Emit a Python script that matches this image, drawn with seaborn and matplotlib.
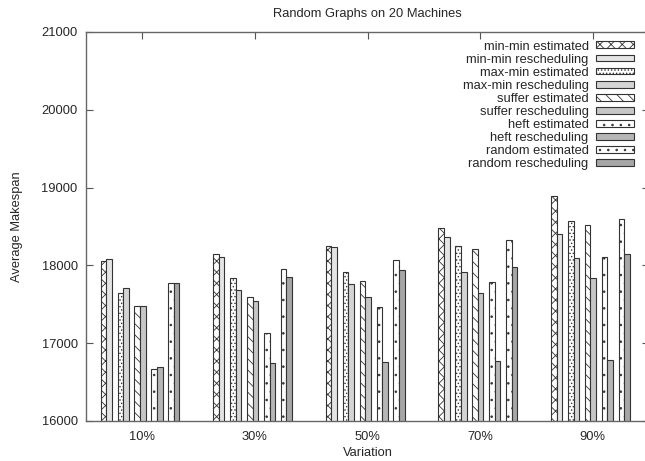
import numpy as np
import pandas as pd
import matplotlib
matplotlib.use("Agg")
import matplotlib.pyplot as plt
import seaborn as sns

# ---- data ----
variations = ['10%', '30%', '50%', '70%', '90%']
minmin_est = [18060, 18150, 18255, 18475, 18890]
minmin_resc = [18080, 18105, 18235, 18360, 18405]
maxmin_est = [17650, 17835, 17920, 18255, 18565]
maxmin_resc = [17705, 17690, 17765, 17910, 18100]
suffer_est = [17480, 17595, 17805, 18210, 18515]
suffer_resc = [17480, 17545, 17600, 17650, 17835]
heft_est = [16670, 17125, 17470, 17785, 18110]
heft_resc = [16695, 16750, 16755, 16775, 16785]
random_est = [17780, 17950, 18065, 18325, 18595]
random_resc = [17780, 17850, 17940, 17975, 18145]

series_labels = ['min-min estimated', 'min-min rescheduling',
                 'max-min estimated', 'max-min rescheduling',
                 'suffer estimated', 'suffer rescheduling',
                 'heft estimated', 'heft rescheduling',
                 'random estimated', 'random rescheduling']
series_values = [minmin_est, minmin_resc, maxmin_est, maxmin_resc,
                 suffer_est, suffer_resc, heft_est, heft_resc,
                 random_est, random_resc]

# ---- styles ----
sns.set_style('ticks')
plt.rcParams['font.family'] = ['Liberation Sans', 'DejaVu Sans']
plt.rcParams['font.size'] = 9.3
plt.rcParams['hatch.linewidth'] = 0.6
plt.rcParams['hatch.color'] = '#222222'
plt.rcParams['xtick.direction'] = 'in'
plt.rcParams['ytick.direction'] = 'in'

fills = ['white', '#e4e4e4', 'white', '#d4d4d4', 'white', '#c6c6c6',
         'white', '#b6b6b6', 'white', '#a6a6a6']
hatches = ['xxx', None, '.....', None, '\\\\\\', None, '..', None, '..', None]

bar_w = 0.05
pair_step = 0.15
shift = -0.02

fig = plt.figure(figsize=(6.45, 4.61), dpi=100)
ax = fig.add_axes([86 / 645, 40 / 461, 563 / 645, 389 / 461])

base = np.arange(len(variations))
for i, (lab, vals) in enumerate(zip(series_labels, series_values)):
    pair = i // 2
    off = (pair - 2) * pair_step + (-bar_w / 2 if i % 2 == 0 else bar_w / 2) + shift
    df = pd.DataFrame({'x': base + off, 'y': vals})
    kw = {}
    if hatches[i]:
        kw['hatch'] = hatches[i]
    sns.barplot(data=df, x='x', y='y', native_scale=True, width=bar_w,
                color=fills[i], edgecolor='#333333', linewidth=0.8,
                errorbar=None, label=lab, ax=ax, saturation=1, **kw)

ax.set_xlim(-0.5, 4.5)
ax.set_ylim(16000, 21000)
ax.set_xticks(base)
ax.set_xticklabels(variations)
ax.set_yticks(np.arange(16000, 21001, 1000))
ax.tick_params(axis='both', which='both', top=True, right=True,
               direction='in', length=5, width=0.8, color='#555555',
               labelsize=9.3)
ax.tick_params(axis='x', pad=7)
ax.tick_params(axis='y', pad=6)
for s in ax.spines.values():
    s.set_visible(True)
    s.set_color('#666666')
    s.set_linewidth(1.0)

ax.set_xlabel('Variation', fontsize=9.3, labelpad=3)
ax.set_ylabel('Average Makespan', fontsize=9.3, labelpad=13)
ax.set_title('Random Graphs on 20 Machines', fontsize=9.3, pad=11)

ax.legend(loc='upper right', bbox_to_anchor=(0.973, 0.978), frameon=False,
          markerfirst=False, fontsize=9.3, handlelength=2.9, handleheight=0.45,
          handletextpad=0.6, labelspacing=0.08, borderpad=0, borderaxespad=0)

fig.savefig('out.png', dpi=100)
